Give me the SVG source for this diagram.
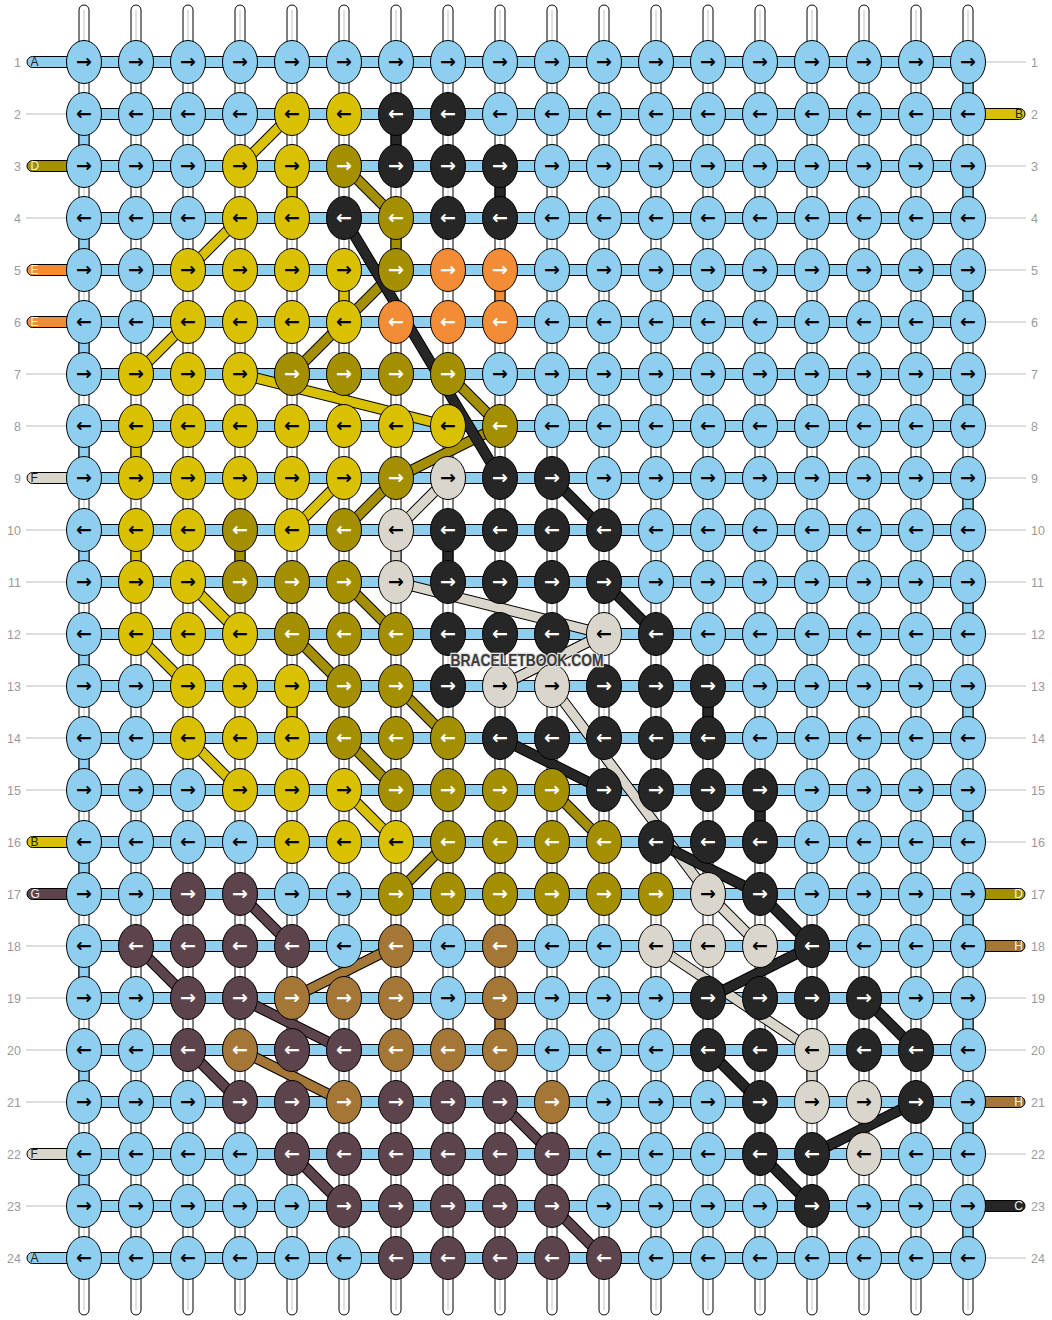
<svg xmlns="http://www.w3.org/2000/svg" xmlns:xlink="http://www.w3.org/1999/xlink" width="1052" height="1320" viewBox="0 0 1052 1320">
<style>
.L{fill:#8ecff0}.Y{fill:#dac100}.O{fill:#a38f00}.K{fill:#262626}.R{fill:#f28c35}.W{fill:#dad6cb}.N{fill:#a47737}.P{fill:#5d434b}
ellipse{stroke:#000;stroke-width:1}
.nodes text{font-family:"DejaVu Sans",sans-serif;font-weight:bold;font-size:19px;text-anchor:middle;fill:#000}
.nodes text.w{fill:#fff}
.str{fill:#fff;stroke:#000;stroke-width:1}
.strc{stroke:#c4c4c4;stroke-width:1}
.hb{stroke:#000;stroke-width:1}
.vc{stroke:#000;stroke-width:1}
.ol{fill:none;stroke:#000;stroke-width:11}
.fY,.fO,.fK,.fW,.fN,.fP{fill:none;stroke-width:9}
.fY{stroke:#dac100}.fO{stroke:#a38f00}.fK{stroke:#262626}.fW{stroke:#dad6cb}.fN{stroke:#a47737}.fP{stroke:#5d434b}
.num{font-family:"Liberation Sans",Arial,sans-serif;font-size:12.5px;fill:#9a9a9a}
.ne{text-anchor:end}
.gl{stroke:#bdbdbd;stroke-width:1}
.pill{stroke:#000;stroke-width:1}
.pl{font-family:"Liberation Sans",Arial,sans-serif;font-size:12px;fill:#222}
.pl.w{fill:#f2f2f2}
</style>
<defs>
<path id="pY" d="M292 114L240 166M240 218L188 270M188 322L136 374M240 374L448 426M292 530L344 478M188 582L240 634M136 634L188 686M188 738L240 790M344 790L396 842"/>
<path id="pO" d="M344 166L396 218M396 270L292 374M448 374L500 426M500 426L396 478M396 478L344 530M344 582L396 634M292 634L344 686M396 686L448 738M344 738L396 790M552 790L604 842M448 842L396 894"/>
<path id="pK" d="M344 218L500 478M552 478L604 530M604 582L656 634M500 738L604 790M656 842L760 894M760 894L812 946M812 946L708 998M864 998L916 1050M708 1050L760 1102M916 1102L812 1154M760 1154L812 1206"/>
<path id="pW" d="M448 478L396 530M396 582L604 634M604 634L500 686M552 686L708 894M708 894L760 946M656 946L812 1050"/>
<path id="pN" d="M396 946L292 998M240 1050L344 1102"/>
<path id="pP" d="M240 894L292 946M136 946L188 998M240 998L344 1050M188 1050L240 1102M292 1154L344 1206M500 1102L552 1154M552 1206L604 1258"/>
</defs>
<rect width="1052" height="1320" fill="#fff"/>
<g id="strings">
<g id="warp">
<rect class="str" x="79" y="5" width="10" height="1310" rx="5"/><rect class="str" x="131" y="5" width="10" height="1310" rx="5"/><rect class="str" x="183" y="5" width="10" height="1310" rx="5"/><rect class="str" x="235" y="5" width="10" height="1310" rx="5"/><rect class="str" x="287" y="5" width="10" height="1310" rx="5"/><rect class="str" x="339" y="5" width="10" height="1310" rx="5"/><rect class="str" x="391" y="5" width="10" height="1310" rx="5"/><rect class="str" x="443" y="5" width="10" height="1310" rx="5"/><rect class="str" x="495" y="5" width="10" height="1310" rx="5"/><rect class="str" x="547" y="5" width="10" height="1310" rx="5"/><rect class="str" x="599" y="5" width="10" height="1310" rx="5"/><rect class="str" x="651" y="5" width="10" height="1310" rx="5"/><rect class="str" x="703" y="5" width="10" height="1310" rx="5"/><rect class="str" x="755" y="5" width="10" height="1310" rx="5"/><rect class="str" x="807" y="5" width="10" height="1310" rx="5"/><rect class="str" x="859" y="5" width="10" height="1310" rx="5"/><rect class="str" x="911" y="5" width="10" height="1310" rx="5"/><rect class="str" x="963" y="5" width="10" height="1310" rx="5"/>
<path class="strc" d="M84 10V1310M136 10V1310M188 10V1310M240 10V1310M292 10V1310M344 10V1310M396 10V1310M448 10V1310M500 10V1310M552 10V1310M604 10V1310M656 10V1310M708 10V1310M760 10V1310M812 10V1310M864 10V1310M916 10V1310M968 10V1310"/>
</g>
<g id="rows">
<rect class="hb L" x="84" y="56.5" width="884" height="11"/><rect class="hb L" x="84" y="108.5" width="884" height="11"/><rect class="hb L" x="84" y="160.5" width="884" height="11"/><rect class="hb L" x="84" y="212.5" width="884" height="11"/><rect class="hb L" x="84" y="264.5" width="884" height="11"/><rect class="hb L" x="84" y="316.5" width="884" height="11"/><rect class="hb L" x="84" y="368.5" width="884" height="11"/><rect class="hb L" x="84" y="420.5" width="884" height="11"/><rect class="hb L" x="84" y="472.5" width="884" height="11"/><rect class="hb L" x="84" y="524.5" width="884" height="11"/><rect class="hb L" x="84" y="576.5" width="884" height="11"/><rect class="hb L" x="84" y="628.5" width="884" height="11"/><rect class="hb L" x="84" y="680.5" width="884" height="11"/><rect class="hb L" x="84" y="732.5" width="884" height="11"/><rect class="hb L" x="84" y="784.5" width="884" height="11"/><rect class="hb L" x="84" y="836.5" width="884" height="11"/><rect class="hb L" x="84" y="888.5" width="884" height="11"/><rect class="hb L" x="84" y="940.5" width="884" height="11"/><rect class="hb L" x="84" y="992.5" width="884" height="11"/><rect class="hb L" x="84" y="1044.5" width="884" height="11"/><rect class="hb L" x="84" y="1096.5" width="884" height="11"/><rect class="hb L" x="84" y="1148.5" width="884" height="11"/><rect class="hb L" x="84" y="1200.5" width="884" height="11"/><rect class="hb L" x="84" y="1252.5" width="884" height="11"/>
</g>
</g>
<g id="connectors">
<g id="vertical">
<rect class="vc L" x="79" y="114" width="10" height="52"/><rect class="vc L" x="79" y="218" width="10" height="52"/><rect class="vc L" x="79" y="322" width="10" height="52"/><rect class="vc L" x="79" y="426" width="10" height="52"/><rect class="vc L" x="79" y="530" width="10" height="52"/><rect class="vc L" x="79" y="634" width="10" height="52"/><rect class="vc L" x="79" y="738" width="10" height="52"/><rect class="vc L" x="79" y="842" width="10" height="52"/><rect class="vc L" x="79" y="946" width="10" height="52"/><rect class="vc L" x="79" y="1050" width="10" height="52"/><rect class="vc L" x="79" y="1154" width="10" height="52"/>
<rect class="vc L" x="963" y="62" width="10" height="52"/><rect class="vc L" x="963" y="166" width="10" height="52"/><rect class="vc L" x="963" y="270" width="10" height="52"/><rect class="vc L" x="963" y="374" width="10" height="52"/><rect class="vc L" x="963" y="478" width="10" height="52"/><rect class="vc L" x="963" y="582" width="10" height="52"/><rect class="vc L" x="963" y="686" width="10" height="52"/><rect class="vc L" x="963" y="790" width="10" height="52"/><rect class="vc L" x="963" y="894" width="10" height="52"/><rect class="vc L" x="963" y="998" width="10" height="52"/><rect class="vc L" x="963" y="1102" width="10" height="52"/><rect class="vc L" x="963" y="1206" width="10" height="52"/>
<rect class="vc Y" x="287" y="166" width="10" height="52"/><rect class="vc Y" x="339" y="270" width="10" height="52"/><rect class="vc Y" x="131" y="426" width="10" height="52"/><rect class="vc Y" x="131" y="530" width="10" height="52"/><rect class="vc Y" x="287" y="686" width="10" height="52"/>
<rect class="vc O" x="391" y="218" width="10" height="52"/><rect class="vc O" x="235" y="530" width="10" height="52"/>
<rect class="vc R" x="495" y="270" width="10" height="52"/>
<rect class="vc K" x="391" y="114" width="10" height="52"/><rect class="vc K" x="495" y="166" width="10" height="52"/><rect class="vc K" x="443" y="530" width="10" height="52"/><rect class="vc K" x="703" y="686" width="10" height="52"/><rect class="vc K" x="755" y="790" width="10" height="52"/>
<rect class="vc W" x="391" y="530" width="10" height="52"/><rect class="vc W" x="807" y="1050" width="10" height="52"/>
<rect class="vc N" x="495" y="998" width="10" height="52"/>
</g>
<g id="diagonal">
<use xlink:href="#pY" class="ol"/><use xlink:href="#pY" class="fY"/>
<use xlink:href="#pO" class="ol"/><use xlink:href="#pO" class="fO"/>
<use xlink:href="#pW" class="ol"/><use xlink:href="#pW" class="fW"/>
<use xlink:href="#pN" class="ol"/><use xlink:href="#pN" class="fN"/>
<use xlink:href="#pP" class="ol"/><use xlink:href="#pP" class="fP"/>
<use xlink:href="#pK" class="ol"/><use xlink:href="#pK" class="fK"/>
</g>
</g>
<g id="legend">
<path class="gl" d="M26 114H66M26 218H66M26 374H66M26 426H66M26 530H66M26 582H66M26 634H66M26 686H66M26 738H66M26 790H66M26 946H66M26 998H66M26 1050H66M26 1102H66M26 1206H66"/>
<path class="gl" d="M986 62H1026M986 166H1026M986 218H1026M986 270H1026M986 322H1026M986 374H1026M986 426H1026M986 478H1026M986 530H1026M986 582H1026M986 634H1026M986 686H1026M986 738H1026M986 790H1026M986 842H1026M986 998H1026M986 1050H1026M986 1154H1026M986 1258H1026"/>
<g id="pill-l1"><rect class="pill L" x="27" y="56.5" width="50" height="11" rx="5.5"/><text class="pl" x="30.5" y="66.3">A</text></g>
<g id="pill-l3"><rect class="pill O" x="27" y="160.5" width="50" height="11" rx="5.5"/><text class="pl w" x="30.5" y="170.3">D</text></g>
<g id="pill-l5"><rect class="pill R" x="27" y="264.5" width="50" height="11" rx="5.5"/><text class="pl w" x="30.5" y="274.3">E</text></g>
<g id="pill-l6"><rect class="pill R" x="27" y="316.5" width="50" height="11" rx="5.5"/><text class="pl w" x="30.5" y="326.3">E</text></g>
<g id="pill-l9"><rect class="pill W" x="27" y="472.5" width="50" height="11" rx="5.5"/><text class="pl" x="30.5" y="482.3">F</text></g>
<g id="pill-l16"><rect class="pill Y" x="27" y="836.5" width="50" height="11" rx="5.5"/><text class="pl" x="30.5" y="846.3">B</text></g>
<g id="pill-l17"><rect class="pill P" x="27" y="888.5" width="50" height="11" rx="5.5"/><text class="pl w" x="30.5" y="898.3">G</text></g>
<g id="pill-l22"><rect class="pill W" x="27" y="1148.5" width="50" height="11" rx="5.5"/><text class="pl" x="30.5" y="1158.3">F</text></g>
<g id="pill-l24"><rect class="pill L" x="27" y="1252.5" width="50" height="11" rx="5.5"/><text class="pl" x="30.5" y="1262.3">A</text></g>
<g id="pill-r2"><rect class="pill Y" x="975" y="108.5" width="50" height="11" rx="5.5"/><text class="pl ne" x="1023" y="118.3">B</text></g>
<g id="pill-r17"><rect class="pill O" x="975" y="888.5" width="50" height="11" rx="5.5"/><text class="pl w ne" x="1023" y="898.3">D</text></g>
<g id="pill-r18"><rect class="pill N" x="975" y="940.5" width="50" height="11" rx="5.5"/><text class="pl w ne" x="1023" y="950.3">H</text></g>
<g id="pill-r21"><rect class="pill N" x="975" y="1096.5" width="50" height="11" rx="5.5"/><text class="pl w ne" x="1023" y="1106.3">H</text></g>
<g id="pill-r23"><rect class="pill K" x="975" y="1200.5" width="50" height="11" rx="5.5"/><text class="pl w ne" x="1023" y="1210.3">C</text></g>
<g id="numbers-left" class="num ne">
<text x="21" y="66.5">1</text><text x="21" y="118.5">2</text><text x="21" y="170.5">3</text><text x="21" y="222.5">4</text><text x="21" y="274.5">5</text><text x="21" y="326.5">6</text><text x="21" y="378.5">7</text><text x="21" y="430.5">8</text><text x="21" y="482.5">9</text><text x="21" y="534.5">10</text><text x="21" y="586.5">11</text><text x="21" y="638.5">12</text><text x="21" y="690.5">13</text><text x="21" y="742.5">14</text><text x="21" y="794.5">15</text><text x="21" y="846.5">16</text><text x="21" y="898.5">17</text><text x="21" y="950.5">18</text><text x="21" y="1002.5">19</text><text x="21" y="1054.5">20</text><text x="21" y="1106.5">21</text><text x="21" y="1158.5">22</text><text x="21" y="1210.5">23</text><text x="21" y="1262.5">24</text>
</g>
<g id="numbers-right" class="num">
<text x="1031" y="66.5">1</text><text x="1031" y="118.5">2</text><text x="1031" y="170.5">3</text><text x="1031" y="222.5">4</text><text x="1031" y="274.5">5</text><text x="1031" y="326.5">6</text><text x="1031" y="378.5">7</text><text x="1031" y="430.5">8</text><text x="1031" y="482.5">9</text><text x="1031" y="534.5">10</text><text x="1031" y="586.5">11</text><text x="1031" y="638.5">12</text><text x="1031" y="690.5">13</text><text x="1031" y="742.5">14</text><text x="1031" y="794.5">15</text><text x="1031" y="846.5">16</text><text x="1031" y="898.5">17</text><text x="1031" y="950.5">18</text><text x="1031" y="1002.5">19</text><text x="1031" y="1054.5">20</text><text x="1031" y="1106.5">21</text><text x="1031" y="1158.5">22</text><text x="1031" y="1210.5">23</text><text x="1031" y="1262.5">24</text>
</g>
</g>
<g class="nodes">
<g id="n1-1"><ellipse class="L" cx="84" cy="62" rx="17.5" ry="21.5"/><text x="84" y="68">→</text></g>
<g id="n1-2"><ellipse class="L" cx="136" cy="62" rx="17.5" ry="21.5"/><text x="136" y="68">→</text></g>
<g id="n1-3"><ellipse class="L" cx="188" cy="62" rx="17.5" ry="21.5"/><text x="188" y="68">→</text></g>
<g id="n1-4"><ellipse class="L" cx="240" cy="62" rx="17.5" ry="21.5"/><text x="240" y="68">→</text></g>
<g id="n1-5"><ellipse class="L" cx="292" cy="62" rx="17.5" ry="21.5"/><text x="292" y="68">→</text></g>
<g id="n1-6"><ellipse class="L" cx="344" cy="62" rx="17.5" ry="21.5"/><text x="344" y="68">→</text></g>
<g id="n1-7"><ellipse class="L" cx="396" cy="62" rx="17.5" ry="21.5"/><text x="396" y="68">→</text></g>
<g id="n1-8"><ellipse class="L" cx="448" cy="62" rx="17.5" ry="21.5"/><text x="448" y="68">→</text></g>
<g id="n1-9"><ellipse class="L" cx="500" cy="62" rx="17.5" ry="21.5"/><text x="500" y="68">→</text></g>
<g id="n1-10"><ellipse class="L" cx="552" cy="62" rx="17.5" ry="21.5"/><text x="552" y="68">→</text></g>
<g id="n1-11"><ellipse class="L" cx="604" cy="62" rx="17.5" ry="21.5"/><text x="604" y="68">→</text></g>
<g id="n1-12"><ellipse class="L" cx="656" cy="62" rx="17.5" ry="21.5"/><text x="656" y="68">→</text></g>
<g id="n1-13"><ellipse class="L" cx="708" cy="62" rx="17.5" ry="21.5"/><text x="708" y="68">→</text></g>
<g id="n1-14"><ellipse class="L" cx="760" cy="62" rx="17.5" ry="21.5"/><text x="760" y="68">→</text></g>
<g id="n1-15"><ellipse class="L" cx="812" cy="62" rx="17.5" ry="21.5"/><text x="812" y="68">→</text></g>
<g id="n1-16"><ellipse class="L" cx="864" cy="62" rx="17.5" ry="21.5"/><text x="864" y="68">→</text></g>
<g id="n1-17"><ellipse class="L" cx="916" cy="62" rx="17.5" ry="21.5"/><text x="916" y="68">→</text></g>
<g id="n1-18"><ellipse class="L" cx="968" cy="62" rx="17.5" ry="21.5"/><text x="968" y="68">→</text></g>
<g id="n2-1"><ellipse class="L" cx="84" cy="114" rx="17.5" ry="21.5"/><text x="84" y="120">←</text></g>
<g id="n2-2"><ellipse class="L" cx="136" cy="114" rx="17.5" ry="21.5"/><text x="136" y="120">←</text></g>
<g id="n2-3"><ellipse class="L" cx="188" cy="114" rx="17.5" ry="21.5"/><text x="188" y="120">←</text></g>
<g id="n2-4"><ellipse class="L" cx="240" cy="114" rx="17.5" ry="21.5"/><text x="240" y="120">←</text></g>
<g id="n2-5"><ellipse class="Y" cx="292" cy="114" rx="17.5" ry="21.5"/><text x="292" y="120">←</text></g>
<g id="n2-6"><ellipse class="Y" cx="344" cy="114" rx="17.5" ry="21.5"/><text x="344" y="120">←</text></g>
<g id="n2-7"><ellipse class="K" cx="396" cy="114" rx="17.5" ry="21.5"/><text class="w" x="396" y="120">←</text></g>
<g id="n2-8"><ellipse class="K" cx="448" cy="114" rx="17.5" ry="21.5"/><text class="w" x="448" y="120">←</text></g>
<g id="n2-9"><ellipse class="L" cx="500" cy="114" rx="17.5" ry="21.5"/><text x="500" y="120">←</text></g>
<g id="n2-10"><ellipse class="L" cx="552" cy="114" rx="17.5" ry="21.5"/><text x="552" y="120">←</text></g>
<g id="n2-11"><ellipse class="L" cx="604" cy="114" rx="17.5" ry="21.5"/><text x="604" y="120">←</text></g>
<g id="n2-12"><ellipse class="L" cx="656" cy="114" rx="17.5" ry="21.5"/><text x="656" y="120">←</text></g>
<g id="n2-13"><ellipse class="L" cx="708" cy="114" rx="17.5" ry="21.5"/><text x="708" y="120">←</text></g>
<g id="n2-14"><ellipse class="L" cx="760" cy="114" rx="17.5" ry="21.5"/><text x="760" y="120">←</text></g>
<g id="n2-15"><ellipse class="L" cx="812" cy="114" rx="17.5" ry="21.5"/><text x="812" y="120">←</text></g>
<g id="n2-16"><ellipse class="L" cx="864" cy="114" rx="17.5" ry="21.5"/><text x="864" y="120">←</text></g>
<g id="n2-17"><ellipse class="L" cx="916" cy="114" rx="17.5" ry="21.5"/><text x="916" y="120">←</text></g>
<g id="n2-18"><ellipse class="L" cx="968" cy="114" rx="17.5" ry="21.5"/><text x="968" y="120">←</text></g>
<g id="n3-1"><ellipse class="L" cx="84" cy="166" rx="17.5" ry="21.5"/><text x="84" y="172">→</text></g>
<g id="n3-2"><ellipse class="L" cx="136" cy="166" rx="17.5" ry="21.5"/><text x="136" y="172">→</text></g>
<g id="n3-3"><ellipse class="L" cx="188" cy="166" rx="17.5" ry="21.5"/><text x="188" y="172">→</text></g>
<g id="n3-4"><ellipse class="Y" cx="240" cy="166" rx="17.5" ry="21.5"/><text x="240" y="172">→</text></g>
<g id="n3-5"><ellipse class="Y" cx="292" cy="166" rx="17.5" ry="21.5"/><text x="292" y="172">→</text></g>
<g id="n3-6"><ellipse class="O" cx="344" cy="166" rx="17.5" ry="21.5"/><text class="w" x="344" y="172">→</text></g>
<g id="n3-7"><ellipse class="K" cx="396" cy="166" rx="17.5" ry="21.5"/><text class="w" x="396" y="172">→</text></g>
<g id="n3-8"><ellipse class="K" cx="448" cy="166" rx="17.5" ry="21.5"/><text class="w" x="448" y="172">→</text></g>
<g id="n3-9"><ellipse class="K" cx="500" cy="166" rx="17.5" ry="21.5"/><text class="w" x="500" y="172">→</text></g>
<g id="n3-10"><ellipse class="L" cx="552" cy="166" rx="17.5" ry="21.5"/><text x="552" y="172">→</text></g>
<g id="n3-11"><ellipse class="L" cx="604" cy="166" rx="17.5" ry="21.5"/><text x="604" y="172">→</text></g>
<g id="n3-12"><ellipse class="L" cx="656" cy="166" rx="17.5" ry="21.5"/><text x="656" y="172">→</text></g>
<g id="n3-13"><ellipse class="L" cx="708" cy="166" rx="17.5" ry="21.5"/><text x="708" y="172">→</text></g>
<g id="n3-14"><ellipse class="L" cx="760" cy="166" rx="17.5" ry="21.5"/><text x="760" y="172">→</text></g>
<g id="n3-15"><ellipse class="L" cx="812" cy="166" rx="17.5" ry="21.5"/><text x="812" y="172">→</text></g>
<g id="n3-16"><ellipse class="L" cx="864" cy="166" rx="17.5" ry="21.5"/><text x="864" y="172">→</text></g>
<g id="n3-17"><ellipse class="L" cx="916" cy="166" rx="17.5" ry="21.5"/><text x="916" y="172">→</text></g>
<g id="n3-18"><ellipse class="L" cx="968" cy="166" rx="17.5" ry="21.5"/><text x="968" y="172">→</text></g>
<g id="n4-1"><ellipse class="L" cx="84" cy="218" rx="17.5" ry="21.5"/><text x="84" y="224">←</text></g>
<g id="n4-2"><ellipse class="L" cx="136" cy="218" rx="17.5" ry="21.5"/><text x="136" y="224">←</text></g>
<g id="n4-3"><ellipse class="L" cx="188" cy="218" rx="17.5" ry="21.5"/><text x="188" y="224">←</text></g>
<g id="n4-4"><ellipse class="Y" cx="240" cy="218" rx="17.5" ry="21.5"/><text x="240" y="224">←</text></g>
<g id="n4-5"><ellipse class="Y" cx="292" cy="218" rx="17.5" ry="21.5"/><text x="292" y="224">←</text></g>
<g id="n4-6"><ellipse class="K" cx="344" cy="218" rx="17.5" ry="21.5"/><text class="w" x="344" y="224">←</text></g>
<g id="n4-7"><ellipse class="O" cx="396" cy="218" rx="17.5" ry="21.5"/><text class="w" x="396" y="224">←</text></g>
<g id="n4-8"><ellipse class="K" cx="448" cy="218" rx="17.5" ry="21.5"/><text class="w" x="448" y="224">←</text></g>
<g id="n4-9"><ellipse class="K" cx="500" cy="218" rx="17.5" ry="21.5"/><text class="w" x="500" y="224">←</text></g>
<g id="n4-10"><ellipse class="L" cx="552" cy="218" rx="17.5" ry="21.5"/><text x="552" y="224">←</text></g>
<g id="n4-11"><ellipse class="L" cx="604" cy="218" rx="17.5" ry="21.5"/><text x="604" y="224">←</text></g>
<g id="n4-12"><ellipse class="L" cx="656" cy="218" rx="17.5" ry="21.5"/><text x="656" y="224">←</text></g>
<g id="n4-13"><ellipse class="L" cx="708" cy="218" rx="17.5" ry="21.5"/><text x="708" y="224">←</text></g>
<g id="n4-14"><ellipse class="L" cx="760" cy="218" rx="17.5" ry="21.5"/><text x="760" y="224">←</text></g>
<g id="n4-15"><ellipse class="L" cx="812" cy="218" rx="17.5" ry="21.5"/><text x="812" y="224">←</text></g>
<g id="n4-16"><ellipse class="L" cx="864" cy="218" rx="17.5" ry="21.5"/><text x="864" y="224">←</text></g>
<g id="n4-17"><ellipse class="L" cx="916" cy="218" rx="17.5" ry="21.5"/><text x="916" y="224">←</text></g>
<g id="n4-18"><ellipse class="L" cx="968" cy="218" rx="17.5" ry="21.5"/><text x="968" y="224">←</text></g>
<g id="n5-1"><ellipse class="L" cx="84" cy="270" rx="17.5" ry="21.5"/><text x="84" y="276">→</text></g>
<g id="n5-2"><ellipse class="L" cx="136" cy="270" rx="17.5" ry="21.5"/><text x="136" y="276">→</text></g>
<g id="n5-3"><ellipse class="Y" cx="188" cy="270" rx="17.5" ry="21.5"/><text x="188" y="276">→</text></g>
<g id="n5-4"><ellipse class="Y" cx="240" cy="270" rx="17.5" ry="21.5"/><text x="240" y="276">→</text></g>
<g id="n5-5"><ellipse class="Y" cx="292" cy="270" rx="17.5" ry="21.5"/><text x="292" y="276">→</text></g>
<g id="n5-6"><ellipse class="Y" cx="344" cy="270" rx="17.5" ry="21.5"/><text x="344" y="276">→</text></g>
<g id="n5-7"><ellipse class="O" cx="396" cy="270" rx="17.5" ry="21.5"/><text class="w" x="396" y="276">→</text></g>
<g id="n5-8"><ellipse class="R" cx="448" cy="270" rx="17.5" ry="21.5"/><text class="w" x="448" y="276">→</text></g>
<g id="n5-9"><ellipse class="R" cx="500" cy="270" rx="17.5" ry="21.5"/><text class="w" x="500" y="276">→</text></g>
<g id="n5-10"><ellipse class="L" cx="552" cy="270" rx="17.5" ry="21.5"/><text x="552" y="276">→</text></g>
<g id="n5-11"><ellipse class="L" cx="604" cy="270" rx="17.5" ry="21.5"/><text x="604" y="276">→</text></g>
<g id="n5-12"><ellipse class="L" cx="656" cy="270" rx="17.5" ry="21.5"/><text x="656" y="276">→</text></g>
<g id="n5-13"><ellipse class="L" cx="708" cy="270" rx="17.5" ry="21.5"/><text x="708" y="276">→</text></g>
<g id="n5-14"><ellipse class="L" cx="760" cy="270" rx="17.5" ry="21.5"/><text x="760" y="276">→</text></g>
<g id="n5-15"><ellipse class="L" cx="812" cy="270" rx="17.5" ry="21.5"/><text x="812" y="276">→</text></g>
<g id="n5-16"><ellipse class="L" cx="864" cy="270" rx="17.5" ry="21.5"/><text x="864" y="276">→</text></g>
<g id="n5-17"><ellipse class="L" cx="916" cy="270" rx="17.5" ry="21.5"/><text x="916" y="276">→</text></g>
<g id="n5-18"><ellipse class="L" cx="968" cy="270" rx="17.5" ry="21.5"/><text x="968" y="276">→</text></g>
<g id="n6-1"><ellipse class="L" cx="84" cy="322" rx="17.5" ry="21.5"/><text x="84" y="328">←</text></g>
<g id="n6-2"><ellipse class="L" cx="136" cy="322" rx="17.5" ry="21.5"/><text x="136" y="328">←</text></g>
<g id="n6-3"><ellipse class="Y" cx="188" cy="322" rx="17.5" ry="21.5"/><text x="188" y="328">←</text></g>
<g id="n6-4"><ellipse class="Y" cx="240" cy="322" rx="17.5" ry="21.5"/><text x="240" y="328">←</text></g>
<g id="n6-5"><ellipse class="Y" cx="292" cy="322" rx="17.5" ry="21.5"/><text x="292" y="328">←</text></g>
<g id="n6-6"><ellipse class="Y" cx="344" cy="322" rx="17.5" ry="21.5"/><text x="344" y="328">←</text></g>
<g id="n6-7"><ellipse class="R" cx="396" cy="322" rx="17.5" ry="21.5"/><text class="w" x="396" y="328">←</text></g>
<g id="n6-8"><ellipse class="R" cx="448" cy="322" rx="17.5" ry="21.5"/><text class="w" x="448" y="328">←</text></g>
<g id="n6-9"><ellipse class="R" cx="500" cy="322" rx="17.5" ry="21.5"/><text class="w" x="500" y="328">←</text></g>
<g id="n6-10"><ellipse class="L" cx="552" cy="322" rx="17.5" ry="21.5"/><text x="552" y="328">←</text></g>
<g id="n6-11"><ellipse class="L" cx="604" cy="322" rx="17.5" ry="21.5"/><text x="604" y="328">←</text></g>
<g id="n6-12"><ellipse class="L" cx="656" cy="322" rx="17.5" ry="21.5"/><text x="656" y="328">←</text></g>
<g id="n6-13"><ellipse class="L" cx="708" cy="322" rx="17.5" ry="21.5"/><text x="708" y="328">←</text></g>
<g id="n6-14"><ellipse class="L" cx="760" cy="322" rx="17.5" ry="21.5"/><text x="760" y="328">←</text></g>
<g id="n6-15"><ellipse class="L" cx="812" cy="322" rx="17.5" ry="21.5"/><text x="812" y="328">←</text></g>
<g id="n6-16"><ellipse class="L" cx="864" cy="322" rx="17.5" ry="21.5"/><text x="864" y="328">←</text></g>
<g id="n6-17"><ellipse class="L" cx="916" cy="322" rx="17.5" ry="21.5"/><text x="916" y="328">←</text></g>
<g id="n6-18"><ellipse class="L" cx="968" cy="322" rx="17.5" ry="21.5"/><text x="968" y="328">←</text></g>
<g id="n7-1"><ellipse class="L" cx="84" cy="374" rx="17.5" ry="21.5"/><text x="84" y="380">→</text></g>
<g id="n7-2"><ellipse class="Y" cx="136" cy="374" rx="17.5" ry="21.5"/><text x="136" y="380">→</text></g>
<g id="n7-3"><ellipse class="Y" cx="188" cy="374" rx="17.5" ry="21.5"/><text x="188" y="380">→</text></g>
<g id="n7-4"><ellipse class="Y" cx="240" cy="374" rx="17.5" ry="21.5"/><text x="240" y="380">→</text></g>
<g id="n7-5"><ellipse class="O" cx="292" cy="374" rx="17.5" ry="21.5"/><text class="w" x="292" y="380">→</text></g>
<g id="n7-6"><ellipse class="O" cx="344" cy="374" rx="17.5" ry="21.5"/><text class="w" x="344" y="380">→</text></g>
<g id="n7-7"><ellipse class="O" cx="396" cy="374" rx="17.5" ry="21.5"/><text class="w" x="396" y="380">→</text></g>
<g id="n7-8"><ellipse class="O" cx="448" cy="374" rx="17.5" ry="21.5"/><text class="w" x="448" y="380">→</text></g>
<g id="n7-9"><ellipse class="L" cx="500" cy="374" rx="17.5" ry="21.5"/><text x="500" y="380">→</text></g>
<g id="n7-10"><ellipse class="L" cx="552" cy="374" rx="17.5" ry="21.5"/><text x="552" y="380">→</text></g>
<g id="n7-11"><ellipse class="L" cx="604" cy="374" rx="17.5" ry="21.5"/><text x="604" y="380">→</text></g>
<g id="n7-12"><ellipse class="L" cx="656" cy="374" rx="17.5" ry="21.5"/><text x="656" y="380">→</text></g>
<g id="n7-13"><ellipse class="L" cx="708" cy="374" rx="17.5" ry="21.5"/><text x="708" y="380">→</text></g>
<g id="n7-14"><ellipse class="L" cx="760" cy="374" rx="17.5" ry="21.5"/><text x="760" y="380">→</text></g>
<g id="n7-15"><ellipse class="L" cx="812" cy="374" rx="17.5" ry="21.5"/><text x="812" y="380">→</text></g>
<g id="n7-16"><ellipse class="L" cx="864" cy="374" rx="17.5" ry="21.5"/><text x="864" y="380">→</text></g>
<g id="n7-17"><ellipse class="L" cx="916" cy="374" rx="17.5" ry="21.5"/><text x="916" y="380">→</text></g>
<g id="n7-18"><ellipse class="L" cx="968" cy="374" rx="17.5" ry="21.5"/><text x="968" y="380">→</text></g>
<g id="n8-1"><ellipse class="L" cx="84" cy="426" rx="17.5" ry="21.5"/><text x="84" y="432">←</text></g>
<g id="n8-2"><ellipse class="Y" cx="136" cy="426" rx="17.5" ry="21.5"/><text x="136" y="432">←</text></g>
<g id="n8-3"><ellipse class="Y" cx="188" cy="426" rx="17.5" ry="21.5"/><text x="188" y="432">←</text></g>
<g id="n8-4"><ellipse class="Y" cx="240" cy="426" rx="17.5" ry="21.5"/><text x="240" y="432">←</text></g>
<g id="n8-5"><ellipse class="Y" cx="292" cy="426" rx="17.5" ry="21.5"/><text x="292" y="432">←</text></g>
<g id="n8-6"><ellipse class="Y" cx="344" cy="426" rx="17.5" ry="21.5"/><text x="344" y="432">←</text></g>
<g id="n8-7"><ellipse class="Y" cx="396" cy="426" rx="17.5" ry="21.5"/><text x="396" y="432">←</text></g>
<g id="n8-8"><ellipse class="Y" cx="448" cy="426" rx="17.5" ry="21.5"/><text x="448" y="432">←</text></g>
<g id="n8-9"><ellipse class="O" cx="500" cy="426" rx="17.5" ry="21.5"/><text class="w" x="500" y="432">←</text></g>
<g id="n8-10"><ellipse class="L" cx="552" cy="426" rx="17.5" ry="21.5"/><text x="552" y="432">←</text></g>
<g id="n8-11"><ellipse class="L" cx="604" cy="426" rx="17.5" ry="21.5"/><text x="604" y="432">←</text></g>
<g id="n8-12"><ellipse class="L" cx="656" cy="426" rx="17.5" ry="21.5"/><text x="656" y="432">←</text></g>
<g id="n8-13"><ellipse class="L" cx="708" cy="426" rx="17.5" ry="21.5"/><text x="708" y="432">←</text></g>
<g id="n8-14"><ellipse class="L" cx="760" cy="426" rx="17.5" ry="21.5"/><text x="760" y="432">←</text></g>
<g id="n8-15"><ellipse class="L" cx="812" cy="426" rx="17.5" ry="21.5"/><text x="812" y="432">←</text></g>
<g id="n8-16"><ellipse class="L" cx="864" cy="426" rx="17.5" ry="21.5"/><text x="864" y="432">←</text></g>
<g id="n8-17"><ellipse class="L" cx="916" cy="426" rx="17.5" ry="21.5"/><text x="916" y="432">←</text></g>
<g id="n8-18"><ellipse class="L" cx="968" cy="426" rx="17.5" ry="21.5"/><text x="968" y="432">←</text></g>
<g id="n9-1"><ellipse class="L" cx="84" cy="478" rx="17.5" ry="21.5"/><text x="84" y="484">→</text></g>
<g id="n9-2"><ellipse class="Y" cx="136" cy="478" rx="17.5" ry="21.5"/><text x="136" y="484">→</text></g>
<g id="n9-3"><ellipse class="Y" cx="188" cy="478" rx="17.5" ry="21.5"/><text x="188" y="484">→</text></g>
<g id="n9-4"><ellipse class="Y" cx="240" cy="478" rx="17.5" ry="21.5"/><text x="240" y="484">→</text></g>
<g id="n9-5"><ellipse class="Y" cx="292" cy="478" rx="17.5" ry="21.5"/><text x="292" y="484">→</text></g>
<g id="n9-6"><ellipse class="Y" cx="344" cy="478" rx="17.5" ry="21.5"/><text x="344" y="484">→</text></g>
<g id="n9-7"><ellipse class="O" cx="396" cy="478" rx="17.5" ry="21.5"/><text class="w" x="396" y="484">→</text></g>
<g id="n9-8"><ellipse class="W" cx="448" cy="478" rx="17.5" ry="21.5"/><text x="448" y="484">→</text></g>
<g id="n9-9"><ellipse class="K" cx="500" cy="478" rx="17.5" ry="21.5"/><text class="w" x="500" y="484">→</text></g>
<g id="n9-10"><ellipse class="K" cx="552" cy="478" rx="17.5" ry="21.5"/><text class="w" x="552" y="484">→</text></g>
<g id="n9-11"><ellipse class="L" cx="604" cy="478" rx="17.5" ry="21.5"/><text x="604" y="484">→</text></g>
<g id="n9-12"><ellipse class="L" cx="656" cy="478" rx="17.5" ry="21.5"/><text x="656" y="484">→</text></g>
<g id="n9-13"><ellipse class="L" cx="708" cy="478" rx="17.5" ry="21.5"/><text x="708" y="484">→</text></g>
<g id="n9-14"><ellipse class="L" cx="760" cy="478" rx="17.5" ry="21.5"/><text x="760" y="484">→</text></g>
<g id="n9-15"><ellipse class="L" cx="812" cy="478" rx="17.5" ry="21.5"/><text x="812" y="484">→</text></g>
<g id="n9-16"><ellipse class="L" cx="864" cy="478" rx="17.5" ry="21.5"/><text x="864" y="484">→</text></g>
<g id="n9-17"><ellipse class="L" cx="916" cy="478" rx="17.5" ry="21.5"/><text x="916" y="484">→</text></g>
<g id="n9-18"><ellipse class="L" cx="968" cy="478" rx="17.5" ry="21.5"/><text x="968" y="484">→</text></g>
<g id="n10-1"><ellipse class="L" cx="84" cy="530" rx="17.5" ry="21.5"/><text x="84" y="536">←</text></g>
<g id="n10-2"><ellipse class="Y" cx="136" cy="530" rx="17.5" ry="21.5"/><text x="136" y="536">←</text></g>
<g id="n10-3"><ellipse class="Y" cx="188" cy="530" rx="17.5" ry="21.5"/><text x="188" y="536">←</text></g>
<g id="n10-4"><ellipse class="O" cx="240" cy="530" rx="17.5" ry="21.5"/><text class="w" x="240" y="536">←</text></g>
<g id="n10-5"><ellipse class="Y" cx="292" cy="530" rx="17.5" ry="21.5"/><text x="292" y="536">←</text></g>
<g id="n10-6"><ellipse class="O" cx="344" cy="530" rx="17.5" ry="21.5"/><text class="w" x="344" y="536">←</text></g>
<g id="n10-7"><ellipse class="W" cx="396" cy="530" rx="17.5" ry="21.5"/><text x="396" y="536">←</text></g>
<g id="n10-8"><ellipse class="K" cx="448" cy="530" rx="17.5" ry="21.5"/><text class="w" x="448" y="536">←</text></g>
<g id="n10-9"><ellipse class="K" cx="500" cy="530" rx="17.5" ry="21.5"/><text class="w" x="500" y="536">←</text></g>
<g id="n10-10"><ellipse class="K" cx="552" cy="530" rx="17.5" ry="21.5"/><text class="w" x="552" y="536">←</text></g>
<g id="n10-11"><ellipse class="K" cx="604" cy="530" rx="17.5" ry="21.5"/><text class="w" x="604" y="536">←</text></g>
<g id="n10-12"><ellipse class="L" cx="656" cy="530" rx="17.5" ry="21.5"/><text x="656" y="536">←</text></g>
<g id="n10-13"><ellipse class="L" cx="708" cy="530" rx="17.5" ry="21.5"/><text x="708" y="536">←</text></g>
<g id="n10-14"><ellipse class="L" cx="760" cy="530" rx="17.5" ry="21.5"/><text x="760" y="536">←</text></g>
<g id="n10-15"><ellipse class="L" cx="812" cy="530" rx="17.5" ry="21.5"/><text x="812" y="536">←</text></g>
<g id="n10-16"><ellipse class="L" cx="864" cy="530" rx="17.5" ry="21.5"/><text x="864" y="536">←</text></g>
<g id="n10-17"><ellipse class="L" cx="916" cy="530" rx="17.5" ry="21.5"/><text x="916" y="536">←</text></g>
<g id="n10-18"><ellipse class="L" cx="968" cy="530" rx="17.5" ry="21.5"/><text x="968" y="536">←</text></g>
<g id="n11-1"><ellipse class="L" cx="84" cy="582" rx="17.5" ry="21.5"/><text x="84" y="588">→</text></g>
<g id="n11-2"><ellipse class="Y" cx="136" cy="582" rx="17.5" ry="21.5"/><text x="136" y="588">→</text></g>
<g id="n11-3"><ellipse class="Y" cx="188" cy="582" rx="17.5" ry="21.5"/><text x="188" y="588">→</text></g>
<g id="n11-4"><ellipse class="O" cx="240" cy="582" rx="17.5" ry="21.5"/><text class="w" x="240" y="588">→</text></g>
<g id="n11-5"><ellipse class="O" cx="292" cy="582" rx="17.5" ry="21.5"/><text class="w" x="292" y="588">→</text></g>
<g id="n11-6"><ellipse class="O" cx="344" cy="582" rx="17.5" ry="21.5"/><text class="w" x="344" y="588">→</text></g>
<g id="n11-7"><ellipse class="W" cx="396" cy="582" rx="17.5" ry="21.5"/><text x="396" y="588">→</text></g>
<g id="n11-8"><ellipse class="K" cx="448" cy="582" rx="17.5" ry="21.5"/><text class="w" x="448" y="588">→</text></g>
<g id="n11-9"><ellipse class="K" cx="500" cy="582" rx="17.5" ry="21.5"/><text class="w" x="500" y="588">→</text></g>
<g id="n11-10"><ellipse class="K" cx="552" cy="582" rx="17.5" ry="21.5"/><text class="w" x="552" y="588">→</text></g>
<g id="n11-11"><ellipse class="K" cx="604" cy="582" rx="17.5" ry="21.5"/><text class="w" x="604" y="588">→</text></g>
<g id="n11-12"><ellipse class="L" cx="656" cy="582" rx="17.5" ry="21.5"/><text x="656" y="588">→</text></g>
<g id="n11-13"><ellipse class="L" cx="708" cy="582" rx="17.5" ry="21.5"/><text x="708" y="588">→</text></g>
<g id="n11-14"><ellipse class="L" cx="760" cy="582" rx="17.5" ry="21.5"/><text x="760" y="588">→</text></g>
<g id="n11-15"><ellipse class="L" cx="812" cy="582" rx="17.5" ry="21.5"/><text x="812" y="588">→</text></g>
<g id="n11-16"><ellipse class="L" cx="864" cy="582" rx="17.5" ry="21.5"/><text x="864" y="588">→</text></g>
<g id="n11-17"><ellipse class="L" cx="916" cy="582" rx="17.5" ry="21.5"/><text x="916" y="588">→</text></g>
<g id="n11-18"><ellipse class="L" cx="968" cy="582" rx="17.5" ry="21.5"/><text x="968" y="588">→</text></g>
<g id="n12-1"><ellipse class="L" cx="84" cy="634" rx="17.5" ry="21.5"/><text x="84" y="640">←</text></g>
<g id="n12-2"><ellipse class="Y" cx="136" cy="634" rx="17.5" ry="21.5"/><text x="136" y="640">←</text></g>
<g id="n12-3"><ellipse class="Y" cx="188" cy="634" rx="17.5" ry="21.5"/><text x="188" y="640">←</text></g>
<g id="n12-4"><ellipse class="Y" cx="240" cy="634" rx="17.5" ry="21.5"/><text x="240" y="640">←</text></g>
<g id="n12-5"><ellipse class="O" cx="292" cy="634" rx="17.5" ry="21.5"/><text class="w" x="292" y="640">←</text></g>
<g id="n12-6"><ellipse class="O" cx="344" cy="634" rx="17.5" ry="21.5"/><text class="w" x="344" y="640">←</text></g>
<g id="n12-7"><ellipse class="O" cx="396" cy="634" rx="17.5" ry="21.5"/><text class="w" x="396" y="640">←</text></g>
<g id="n12-8"><ellipse class="K" cx="448" cy="634" rx="17.5" ry="21.5"/><text class="w" x="448" y="640">←</text></g>
<g id="n12-9"><ellipse class="K" cx="500" cy="634" rx="17.5" ry="21.5"/><text class="w" x="500" y="640">←</text></g>
<g id="n12-10"><ellipse class="K" cx="552" cy="634" rx="17.5" ry="21.5"/><text class="w" x="552" y="640">←</text></g>
<g id="n12-11"><ellipse class="W" cx="604" cy="634" rx="17.5" ry="21.5"/><text x="604" y="640">←</text></g>
<g id="n12-12"><ellipse class="K" cx="656" cy="634" rx="17.5" ry="21.5"/><text class="w" x="656" y="640">←</text></g>
<g id="n12-13"><ellipse class="L" cx="708" cy="634" rx="17.5" ry="21.5"/><text x="708" y="640">←</text></g>
<g id="n12-14"><ellipse class="L" cx="760" cy="634" rx="17.5" ry="21.5"/><text x="760" y="640">←</text></g>
<g id="n12-15"><ellipse class="L" cx="812" cy="634" rx="17.5" ry="21.5"/><text x="812" y="640">←</text></g>
<g id="n12-16"><ellipse class="L" cx="864" cy="634" rx="17.5" ry="21.5"/><text x="864" y="640">←</text></g>
<g id="n12-17"><ellipse class="L" cx="916" cy="634" rx="17.5" ry="21.5"/><text x="916" y="640">←</text></g>
<g id="n12-18"><ellipse class="L" cx="968" cy="634" rx="17.5" ry="21.5"/><text x="968" y="640">←</text></g>
<g id="n13-1"><ellipse class="L" cx="84" cy="686" rx="17.5" ry="21.5"/><text x="84" y="692">→</text></g>
<g id="n13-2"><ellipse class="L" cx="136" cy="686" rx="17.5" ry="21.5"/><text x="136" y="692">→</text></g>
<g id="n13-3"><ellipse class="Y" cx="188" cy="686" rx="17.5" ry="21.5"/><text x="188" y="692">→</text></g>
<g id="n13-4"><ellipse class="Y" cx="240" cy="686" rx="17.5" ry="21.5"/><text x="240" y="692">→</text></g>
<g id="n13-5"><ellipse class="Y" cx="292" cy="686" rx="17.5" ry="21.5"/><text x="292" y="692">→</text></g>
<g id="n13-6"><ellipse class="O" cx="344" cy="686" rx="17.5" ry="21.5"/><text class="w" x="344" y="692">→</text></g>
<g id="n13-7"><ellipse class="O" cx="396" cy="686" rx="17.5" ry="21.5"/><text class="w" x="396" y="692">→</text></g>
<g id="n13-8"><ellipse class="K" cx="448" cy="686" rx="17.5" ry="21.5"/><text class="w" x="448" y="692">→</text></g>
<g id="n13-9"><ellipse class="W" cx="500" cy="686" rx="17.5" ry="21.5"/><text x="500" y="692">→</text></g>
<g id="n13-10"><ellipse class="W" cx="552" cy="686" rx="17.5" ry="21.5"/><text x="552" y="692">→</text></g>
<g id="n13-11"><ellipse class="K" cx="604" cy="686" rx="17.5" ry="21.5"/><text class="w" x="604" y="692">→</text></g>
<g id="n13-12"><ellipse class="K" cx="656" cy="686" rx="17.5" ry="21.5"/><text class="w" x="656" y="692">→</text></g>
<g id="n13-13"><ellipse class="K" cx="708" cy="686" rx="17.5" ry="21.5"/><text class="w" x="708" y="692">→</text></g>
<g id="n13-14"><ellipse class="L" cx="760" cy="686" rx="17.5" ry="21.5"/><text x="760" y="692">→</text></g>
<g id="n13-15"><ellipse class="L" cx="812" cy="686" rx="17.5" ry="21.5"/><text x="812" y="692">→</text></g>
<g id="n13-16"><ellipse class="L" cx="864" cy="686" rx="17.5" ry="21.5"/><text x="864" y="692">→</text></g>
<g id="n13-17"><ellipse class="L" cx="916" cy="686" rx="17.5" ry="21.5"/><text x="916" y="692">→</text></g>
<g id="n13-18"><ellipse class="L" cx="968" cy="686" rx="17.5" ry="21.5"/><text x="968" y="692">→</text></g>
<g id="n14-1"><ellipse class="L" cx="84" cy="738" rx="17.5" ry="21.5"/><text x="84" y="744">←</text></g>
<g id="n14-2"><ellipse class="L" cx="136" cy="738" rx="17.5" ry="21.5"/><text x="136" y="744">←</text></g>
<g id="n14-3"><ellipse class="Y" cx="188" cy="738" rx="17.5" ry="21.5"/><text x="188" y="744">←</text></g>
<g id="n14-4"><ellipse class="Y" cx="240" cy="738" rx="17.5" ry="21.5"/><text x="240" y="744">←</text></g>
<g id="n14-5"><ellipse class="Y" cx="292" cy="738" rx="17.5" ry="21.5"/><text x="292" y="744">←</text></g>
<g id="n14-6"><ellipse class="O" cx="344" cy="738" rx="17.5" ry="21.5"/><text class="w" x="344" y="744">←</text></g>
<g id="n14-7"><ellipse class="O" cx="396" cy="738" rx="17.5" ry="21.5"/><text class="w" x="396" y="744">←</text></g>
<g id="n14-8"><ellipse class="O" cx="448" cy="738" rx="17.5" ry="21.5"/><text class="w" x="448" y="744">←</text></g>
<g id="n14-9"><ellipse class="K" cx="500" cy="738" rx="17.5" ry="21.5"/><text class="w" x="500" y="744">←</text></g>
<g id="n14-10"><ellipse class="K" cx="552" cy="738" rx="17.5" ry="21.5"/><text class="w" x="552" y="744">←</text></g>
<g id="n14-11"><ellipse class="K" cx="604" cy="738" rx="17.5" ry="21.5"/><text class="w" x="604" y="744">←</text></g>
<g id="n14-12"><ellipse class="K" cx="656" cy="738" rx="17.5" ry="21.5"/><text class="w" x="656" y="744">←</text></g>
<g id="n14-13"><ellipse class="K" cx="708" cy="738" rx="17.5" ry="21.5"/><text class="w" x="708" y="744">←</text></g>
<g id="n14-14"><ellipse class="L" cx="760" cy="738" rx="17.5" ry="21.5"/><text x="760" y="744">←</text></g>
<g id="n14-15"><ellipse class="L" cx="812" cy="738" rx="17.5" ry="21.5"/><text x="812" y="744">←</text></g>
<g id="n14-16"><ellipse class="L" cx="864" cy="738" rx="17.5" ry="21.5"/><text x="864" y="744">←</text></g>
<g id="n14-17"><ellipse class="L" cx="916" cy="738" rx="17.5" ry="21.5"/><text x="916" y="744">←</text></g>
<g id="n14-18"><ellipse class="L" cx="968" cy="738" rx="17.5" ry="21.5"/><text x="968" y="744">←</text></g>
<g id="n15-1"><ellipse class="L" cx="84" cy="790" rx="17.5" ry="21.5"/><text x="84" y="796">→</text></g>
<g id="n15-2"><ellipse class="L" cx="136" cy="790" rx="17.5" ry="21.5"/><text x="136" y="796">→</text></g>
<g id="n15-3"><ellipse class="L" cx="188" cy="790" rx="17.5" ry="21.5"/><text x="188" y="796">→</text></g>
<g id="n15-4"><ellipse class="Y" cx="240" cy="790" rx="17.5" ry="21.5"/><text x="240" y="796">→</text></g>
<g id="n15-5"><ellipse class="Y" cx="292" cy="790" rx="17.5" ry="21.5"/><text x="292" y="796">→</text></g>
<g id="n15-6"><ellipse class="Y" cx="344" cy="790" rx="17.5" ry="21.5"/><text x="344" y="796">→</text></g>
<g id="n15-7"><ellipse class="O" cx="396" cy="790" rx="17.5" ry="21.5"/><text class="w" x="396" y="796">→</text></g>
<g id="n15-8"><ellipse class="O" cx="448" cy="790" rx="17.5" ry="21.5"/><text class="w" x="448" y="796">→</text></g>
<g id="n15-9"><ellipse class="O" cx="500" cy="790" rx="17.5" ry="21.5"/><text class="w" x="500" y="796">→</text></g>
<g id="n15-10"><ellipse class="O" cx="552" cy="790" rx="17.5" ry="21.5"/><text class="w" x="552" y="796">→</text></g>
<g id="n15-11"><ellipse class="K" cx="604" cy="790" rx="17.5" ry="21.5"/><text class="w" x="604" y="796">→</text></g>
<g id="n15-12"><ellipse class="K" cx="656" cy="790" rx="17.5" ry="21.5"/><text class="w" x="656" y="796">→</text></g>
<g id="n15-13"><ellipse class="K" cx="708" cy="790" rx="17.5" ry="21.5"/><text class="w" x="708" y="796">→</text></g>
<g id="n15-14"><ellipse class="K" cx="760" cy="790" rx="17.5" ry="21.5"/><text class="w" x="760" y="796">→</text></g>
<g id="n15-15"><ellipse class="L" cx="812" cy="790" rx="17.5" ry="21.5"/><text x="812" y="796">→</text></g>
<g id="n15-16"><ellipse class="L" cx="864" cy="790" rx="17.5" ry="21.5"/><text x="864" y="796">→</text></g>
<g id="n15-17"><ellipse class="L" cx="916" cy="790" rx="17.5" ry="21.5"/><text x="916" y="796">→</text></g>
<g id="n15-18"><ellipse class="L" cx="968" cy="790" rx="17.5" ry="21.5"/><text x="968" y="796">→</text></g>
<g id="n16-1"><ellipse class="L" cx="84" cy="842" rx="17.5" ry="21.5"/><text x="84" y="848">←</text></g>
<g id="n16-2"><ellipse class="L" cx="136" cy="842" rx="17.5" ry="21.5"/><text x="136" y="848">←</text></g>
<g id="n16-3"><ellipse class="L" cx="188" cy="842" rx="17.5" ry="21.5"/><text x="188" y="848">←</text></g>
<g id="n16-4"><ellipse class="L" cx="240" cy="842" rx="17.5" ry="21.5"/><text x="240" y="848">←</text></g>
<g id="n16-5"><ellipse class="Y" cx="292" cy="842" rx="17.5" ry="21.5"/><text x="292" y="848">←</text></g>
<g id="n16-6"><ellipse class="Y" cx="344" cy="842" rx="17.5" ry="21.5"/><text x="344" y="848">←</text></g>
<g id="n16-7"><ellipse class="Y" cx="396" cy="842" rx="17.5" ry="21.5"/><text x="396" y="848">←</text></g>
<g id="n16-8"><ellipse class="O" cx="448" cy="842" rx="17.5" ry="21.5"/><text class="w" x="448" y="848">←</text></g>
<g id="n16-9"><ellipse class="O" cx="500" cy="842" rx="17.5" ry="21.5"/><text class="w" x="500" y="848">←</text></g>
<g id="n16-10"><ellipse class="O" cx="552" cy="842" rx="17.5" ry="21.5"/><text class="w" x="552" y="848">←</text></g>
<g id="n16-11"><ellipse class="O" cx="604" cy="842" rx="17.5" ry="21.5"/><text class="w" x="604" y="848">←</text></g>
<g id="n16-12"><ellipse class="K" cx="656" cy="842" rx="17.5" ry="21.5"/><text class="w" x="656" y="848">←</text></g>
<g id="n16-13"><ellipse class="K" cx="708" cy="842" rx="17.5" ry="21.5"/><text class="w" x="708" y="848">←</text></g>
<g id="n16-14"><ellipse class="K" cx="760" cy="842" rx="17.5" ry="21.5"/><text class="w" x="760" y="848">←</text></g>
<g id="n16-15"><ellipse class="L" cx="812" cy="842" rx="17.5" ry="21.5"/><text x="812" y="848">←</text></g>
<g id="n16-16"><ellipse class="L" cx="864" cy="842" rx="17.5" ry="21.5"/><text x="864" y="848">←</text></g>
<g id="n16-17"><ellipse class="L" cx="916" cy="842" rx="17.5" ry="21.5"/><text x="916" y="848">←</text></g>
<g id="n16-18"><ellipse class="L" cx="968" cy="842" rx="17.5" ry="21.5"/><text x="968" y="848">←</text></g>
<g id="n17-1"><ellipse class="L" cx="84" cy="894" rx="17.5" ry="21.5"/><text x="84" y="900">→</text></g>
<g id="n17-2"><ellipse class="L" cx="136" cy="894" rx="17.5" ry="21.5"/><text x="136" y="900">→</text></g>
<g id="n17-3"><ellipse class="P" cx="188" cy="894" rx="17.5" ry="21.5"/><text class="w" x="188" y="900">→</text></g>
<g id="n17-4"><ellipse class="P" cx="240" cy="894" rx="17.5" ry="21.5"/><text class="w" x="240" y="900">→</text></g>
<g id="n17-5"><ellipse class="L" cx="292" cy="894" rx="17.5" ry="21.5"/><text x="292" y="900">→</text></g>
<g id="n17-6"><ellipse class="L" cx="344" cy="894" rx="17.5" ry="21.5"/><text x="344" y="900">→</text></g>
<g id="n17-7"><ellipse class="O" cx="396" cy="894" rx="17.5" ry="21.5"/><text class="w" x="396" y="900">→</text></g>
<g id="n17-8"><ellipse class="O" cx="448" cy="894" rx="17.5" ry="21.5"/><text class="w" x="448" y="900">→</text></g>
<g id="n17-9"><ellipse class="O" cx="500" cy="894" rx="17.5" ry="21.5"/><text class="w" x="500" y="900">→</text></g>
<g id="n17-10"><ellipse class="O" cx="552" cy="894" rx="17.5" ry="21.5"/><text class="w" x="552" y="900">→</text></g>
<g id="n17-11"><ellipse class="O" cx="604" cy="894" rx="17.5" ry="21.5"/><text class="w" x="604" y="900">→</text></g>
<g id="n17-12"><ellipse class="O" cx="656" cy="894" rx="17.5" ry="21.5"/><text class="w" x="656" y="900">→</text></g>
<g id="n17-13"><ellipse class="W" cx="708" cy="894" rx="17.5" ry="21.5"/><text x="708" y="900">→</text></g>
<g id="n17-14"><ellipse class="K" cx="760" cy="894" rx="17.5" ry="21.5"/><text class="w" x="760" y="900">→</text></g>
<g id="n17-15"><ellipse class="L" cx="812" cy="894" rx="17.5" ry="21.5"/><text x="812" y="900">→</text></g>
<g id="n17-16"><ellipse class="L" cx="864" cy="894" rx="17.5" ry="21.5"/><text x="864" y="900">→</text></g>
<g id="n17-17"><ellipse class="L" cx="916" cy="894" rx="17.5" ry="21.5"/><text x="916" y="900">→</text></g>
<g id="n17-18"><ellipse class="L" cx="968" cy="894" rx="17.5" ry="21.5"/><text x="968" y="900">→</text></g>
<g id="n18-1"><ellipse class="L" cx="84" cy="946" rx="17.5" ry="21.5"/><text x="84" y="952">←</text></g>
<g id="n18-2"><ellipse class="P" cx="136" cy="946" rx="17.5" ry="21.5"/><text class="w" x="136" y="952">←</text></g>
<g id="n18-3"><ellipse class="P" cx="188" cy="946" rx="17.5" ry="21.5"/><text class="w" x="188" y="952">←</text></g>
<g id="n18-4"><ellipse class="P" cx="240" cy="946" rx="17.5" ry="21.5"/><text class="w" x="240" y="952">←</text></g>
<g id="n18-5"><ellipse class="P" cx="292" cy="946" rx="17.5" ry="21.5"/><text class="w" x="292" y="952">←</text></g>
<g id="n18-6"><ellipse class="L" cx="344" cy="946" rx="17.5" ry="21.5"/><text x="344" y="952">←</text></g>
<g id="n18-7"><ellipse class="N" cx="396" cy="946" rx="17.5" ry="21.5"/><text class="w" x="396" y="952">←</text></g>
<g id="n18-8"><ellipse class="L" cx="448" cy="946" rx="17.5" ry="21.5"/><text x="448" y="952">←</text></g>
<g id="n18-9"><ellipse class="N" cx="500" cy="946" rx="17.5" ry="21.5"/><text class="w" x="500" y="952">←</text></g>
<g id="n18-10"><ellipse class="L" cx="552" cy="946" rx="17.5" ry="21.5"/><text x="552" y="952">←</text></g>
<g id="n18-11"><ellipse class="L" cx="604" cy="946" rx="17.5" ry="21.5"/><text x="604" y="952">←</text></g>
<g id="n18-12"><ellipse class="W" cx="656" cy="946" rx="17.5" ry="21.5"/><text x="656" y="952">←</text></g>
<g id="n18-13"><ellipse class="W" cx="708" cy="946" rx="17.5" ry="21.5"/><text x="708" y="952">←</text></g>
<g id="n18-14"><ellipse class="W" cx="760" cy="946" rx="17.5" ry="21.5"/><text x="760" y="952">←</text></g>
<g id="n18-15"><ellipse class="K" cx="812" cy="946" rx="17.5" ry="21.5"/><text class="w" x="812" y="952">←</text></g>
<g id="n18-16"><ellipse class="L" cx="864" cy="946" rx="17.5" ry="21.5"/><text x="864" y="952">←</text></g>
<g id="n18-17"><ellipse class="L" cx="916" cy="946" rx="17.5" ry="21.5"/><text x="916" y="952">←</text></g>
<g id="n18-18"><ellipse class="L" cx="968" cy="946" rx="17.5" ry="21.5"/><text x="968" y="952">←</text></g>
<g id="n19-1"><ellipse class="L" cx="84" cy="998" rx="17.5" ry="21.5"/><text x="84" y="1004">→</text></g>
<g id="n19-2"><ellipse class="L" cx="136" cy="998" rx="17.5" ry="21.5"/><text x="136" y="1004">→</text></g>
<g id="n19-3"><ellipse class="P" cx="188" cy="998" rx="17.5" ry="21.5"/><text class="w" x="188" y="1004">→</text></g>
<g id="n19-4"><ellipse class="P" cx="240" cy="998" rx="17.5" ry="21.5"/><text class="w" x="240" y="1004">→</text></g>
<g id="n19-5"><ellipse class="N" cx="292" cy="998" rx="17.5" ry="21.5"/><text class="w" x="292" y="1004">→</text></g>
<g id="n19-6"><ellipse class="N" cx="344" cy="998" rx="17.5" ry="21.5"/><text class="w" x="344" y="1004">→</text></g>
<g id="n19-7"><ellipse class="N" cx="396" cy="998" rx="17.5" ry="21.5"/><text class="w" x="396" y="1004">→</text></g>
<g id="n19-8"><ellipse class="L" cx="448" cy="998" rx="17.5" ry="21.5"/><text x="448" y="1004">→</text></g>
<g id="n19-9"><ellipse class="N" cx="500" cy="998" rx="17.5" ry="21.5"/><text class="w" x="500" y="1004">→</text></g>
<g id="n19-10"><ellipse class="L" cx="552" cy="998" rx="17.5" ry="21.5"/><text x="552" y="1004">→</text></g>
<g id="n19-11"><ellipse class="L" cx="604" cy="998" rx="17.5" ry="21.5"/><text x="604" y="1004">→</text></g>
<g id="n19-12"><ellipse class="L" cx="656" cy="998" rx="17.5" ry="21.5"/><text x="656" y="1004">→</text></g>
<g id="n19-13"><ellipse class="K" cx="708" cy="998" rx="17.5" ry="21.5"/><text class="w" x="708" y="1004">→</text></g>
<g id="n19-14"><ellipse class="K" cx="760" cy="998" rx="17.5" ry="21.5"/><text class="w" x="760" y="1004">→</text></g>
<g id="n19-15"><ellipse class="K" cx="812" cy="998" rx="17.5" ry="21.5"/><text class="w" x="812" y="1004">→</text></g>
<g id="n19-16"><ellipse class="K" cx="864" cy="998" rx="17.5" ry="21.5"/><text class="w" x="864" y="1004">→</text></g>
<g id="n19-17"><ellipse class="L" cx="916" cy="998" rx="17.5" ry="21.5"/><text x="916" y="1004">→</text></g>
<g id="n19-18"><ellipse class="L" cx="968" cy="998" rx="17.5" ry="21.5"/><text x="968" y="1004">→</text></g>
<g id="n20-1"><ellipse class="L" cx="84" cy="1050" rx="17.5" ry="21.5"/><text x="84" y="1056">←</text></g>
<g id="n20-2"><ellipse class="L" cx="136" cy="1050" rx="17.5" ry="21.5"/><text x="136" y="1056">←</text></g>
<g id="n20-3"><ellipse class="P" cx="188" cy="1050" rx="17.5" ry="21.5"/><text class="w" x="188" y="1056">←</text></g>
<g id="n20-4"><ellipse class="N" cx="240" cy="1050" rx="17.5" ry="21.5"/><text class="w" x="240" y="1056">←</text></g>
<g id="n20-5"><ellipse class="P" cx="292" cy="1050" rx="17.5" ry="21.5"/><text class="w" x="292" y="1056">←</text></g>
<g id="n20-6"><ellipse class="P" cx="344" cy="1050" rx="17.5" ry="21.5"/><text class="w" x="344" y="1056">←</text></g>
<g id="n20-7"><ellipse class="N" cx="396" cy="1050" rx="17.5" ry="21.5"/><text class="w" x="396" y="1056">←</text></g>
<g id="n20-8"><ellipse class="N" cx="448" cy="1050" rx="17.5" ry="21.5"/><text class="w" x="448" y="1056">←</text></g>
<g id="n20-9"><ellipse class="N" cx="500" cy="1050" rx="17.5" ry="21.5"/><text class="w" x="500" y="1056">←</text></g>
<g id="n20-10"><ellipse class="L" cx="552" cy="1050" rx="17.5" ry="21.5"/><text x="552" y="1056">←</text></g>
<g id="n20-11"><ellipse class="L" cx="604" cy="1050" rx="17.5" ry="21.5"/><text x="604" y="1056">←</text></g>
<g id="n20-12"><ellipse class="L" cx="656" cy="1050" rx="17.5" ry="21.5"/><text x="656" y="1056">←</text></g>
<g id="n20-13"><ellipse class="K" cx="708" cy="1050" rx="17.5" ry="21.5"/><text class="w" x="708" y="1056">←</text></g>
<g id="n20-14"><ellipse class="K" cx="760" cy="1050" rx="17.5" ry="21.5"/><text class="w" x="760" y="1056">←</text></g>
<g id="n20-15"><ellipse class="W" cx="812" cy="1050" rx="17.5" ry="21.5"/><text x="812" y="1056">←</text></g>
<g id="n20-16"><ellipse class="K" cx="864" cy="1050" rx="17.5" ry="21.5"/><text class="w" x="864" y="1056">←</text></g>
<g id="n20-17"><ellipse class="K" cx="916" cy="1050" rx="17.5" ry="21.5"/><text class="w" x="916" y="1056">←</text></g>
<g id="n20-18"><ellipse class="L" cx="968" cy="1050" rx="17.5" ry="21.5"/><text x="968" y="1056">←</text></g>
<g id="n21-1"><ellipse class="L" cx="84" cy="1102" rx="17.5" ry="21.5"/><text x="84" y="1108">→</text></g>
<g id="n21-2"><ellipse class="L" cx="136" cy="1102" rx="17.5" ry="21.5"/><text x="136" y="1108">→</text></g>
<g id="n21-3"><ellipse class="L" cx="188" cy="1102" rx="17.5" ry="21.5"/><text x="188" y="1108">→</text></g>
<g id="n21-4"><ellipse class="P" cx="240" cy="1102" rx="17.5" ry="21.5"/><text class="w" x="240" y="1108">→</text></g>
<g id="n21-5"><ellipse class="P" cx="292" cy="1102" rx="17.5" ry="21.5"/><text class="w" x="292" y="1108">→</text></g>
<g id="n21-6"><ellipse class="N" cx="344" cy="1102" rx="17.5" ry="21.5"/><text class="w" x="344" y="1108">→</text></g>
<g id="n21-7"><ellipse class="P" cx="396" cy="1102" rx="17.5" ry="21.5"/><text class="w" x="396" y="1108">→</text></g>
<g id="n21-8"><ellipse class="P" cx="448" cy="1102" rx="17.5" ry="21.5"/><text class="w" x="448" y="1108">→</text></g>
<g id="n21-9"><ellipse class="P" cx="500" cy="1102" rx="17.5" ry="21.5"/><text class="w" x="500" y="1108">→</text></g>
<g id="n21-10"><ellipse class="N" cx="552" cy="1102" rx="17.5" ry="21.5"/><text class="w" x="552" y="1108">→</text></g>
<g id="n21-11"><ellipse class="L" cx="604" cy="1102" rx="17.5" ry="21.5"/><text x="604" y="1108">→</text></g>
<g id="n21-12"><ellipse class="L" cx="656" cy="1102" rx="17.5" ry="21.5"/><text x="656" y="1108">→</text></g>
<g id="n21-13"><ellipse class="L" cx="708" cy="1102" rx="17.5" ry="21.5"/><text x="708" y="1108">→</text></g>
<g id="n21-14"><ellipse class="K" cx="760" cy="1102" rx="17.5" ry="21.5"/><text class="w" x="760" y="1108">→</text></g>
<g id="n21-15"><ellipse class="W" cx="812" cy="1102" rx="17.5" ry="21.5"/><text x="812" y="1108">→</text></g>
<g id="n21-16"><ellipse class="W" cx="864" cy="1102" rx="17.5" ry="21.5"/><text x="864" y="1108">→</text></g>
<g id="n21-17"><ellipse class="K" cx="916" cy="1102" rx="17.5" ry="21.5"/><text class="w" x="916" y="1108">→</text></g>
<g id="n21-18"><ellipse class="L" cx="968" cy="1102" rx="17.5" ry="21.5"/><text x="968" y="1108">→</text></g>
<g id="n22-1"><ellipse class="L" cx="84" cy="1154" rx="17.5" ry="21.5"/><text x="84" y="1160">←</text></g>
<g id="n22-2"><ellipse class="L" cx="136" cy="1154" rx="17.5" ry="21.5"/><text x="136" y="1160">←</text></g>
<g id="n22-3"><ellipse class="L" cx="188" cy="1154" rx="17.5" ry="21.5"/><text x="188" y="1160">←</text></g>
<g id="n22-4"><ellipse class="L" cx="240" cy="1154" rx="17.5" ry="21.5"/><text x="240" y="1160">←</text></g>
<g id="n22-5"><ellipse class="P" cx="292" cy="1154" rx="17.5" ry="21.5"/><text class="w" x="292" y="1160">←</text></g>
<g id="n22-6"><ellipse class="P" cx="344" cy="1154" rx="17.5" ry="21.5"/><text class="w" x="344" y="1160">←</text></g>
<g id="n22-7"><ellipse class="P" cx="396" cy="1154" rx="17.5" ry="21.5"/><text class="w" x="396" y="1160">←</text></g>
<g id="n22-8"><ellipse class="P" cx="448" cy="1154" rx="17.5" ry="21.5"/><text class="w" x="448" y="1160">←</text></g>
<g id="n22-9"><ellipse class="P" cx="500" cy="1154" rx="17.5" ry="21.5"/><text class="w" x="500" y="1160">←</text></g>
<g id="n22-10"><ellipse class="P" cx="552" cy="1154" rx="17.5" ry="21.5"/><text class="w" x="552" y="1160">←</text></g>
<g id="n22-11"><ellipse class="L" cx="604" cy="1154" rx="17.5" ry="21.5"/><text x="604" y="1160">←</text></g>
<g id="n22-12"><ellipse class="L" cx="656" cy="1154" rx="17.5" ry="21.5"/><text x="656" y="1160">←</text></g>
<g id="n22-13"><ellipse class="L" cx="708" cy="1154" rx="17.5" ry="21.5"/><text x="708" y="1160">←</text></g>
<g id="n22-14"><ellipse class="K" cx="760" cy="1154" rx="17.5" ry="21.5"/><text class="w" x="760" y="1160">←</text></g>
<g id="n22-15"><ellipse class="K" cx="812" cy="1154" rx="17.5" ry="21.5"/><text class="w" x="812" y="1160">←</text></g>
<g id="n22-16"><ellipse class="W" cx="864" cy="1154" rx="17.5" ry="21.5"/><text x="864" y="1160">←</text></g>
<g id="n22-17"><ellipse class="L" cx="916" cy="1154" rx="17.5" ry="21.5"/><text x="916" y="1160">←</text></g>
<g id="n22-18"><ellipse class="L" cx="968" cy="1154" rx="17.5" ry="21.5"/><text x="968" y="1160">←</text></g>
<g id="n23-1"><ellipse class="L" cx="84" cy="1206" rx="17.5" ry="21.5"/><text x="84" y="1212">→</text></g>
<g id="n23-2"><ellipse class="L" cx="136" cy="1206" rx="17.5" ry="21.5"/><text x="136" y="1212">→</text></g>
<g id="n23-3"><ellipse class="L" cx="188" cy="1206" rx="17.5" ry="21.5"/><text x="188" y="1212">→</text></g>
<g id="n23-4"><ellipse class="L" cx="240" cy="1206" rx="17.5" ry="21.5"/><text x="240" y="1212">→</text></g>
<g id="n23-5"><ellipse class="L" cx="292" cy="1206" rx="17.5" ry="21.5"/><text x="292" y="1212">→</text></g>
<g id="n23-6"><ellipse class="P" cx="344" cy="1206" rx="17.5" ry="21.5"/><text class="w" x="344" y="1212">→</text></g>
<g id="n23-7"><ellipse class="P" cx="396" cy="1206" rx="17.5" ry="21.5"/><text class="w" x="396" y="1212">→</text></g>
<g id="n23-8"><ellipse class="P" cx="448" cy="1206" rx="17.5" ry="21.5"/><text class="w" x="448" y="1212">→</text></g>
<g id="n23-9"><ellipse class="P" cx="500" cy="1206" rx="17.5" ry="21.5"/><text class="w" x="500" y="1212">→</text></g>
<g id="n23-10"><ellipse class="P" cx="552" cy="1206" rx="17.5" ry="21.5"/><text class="w" x="552" y="1212">→</text></g>
<g id="n23-11"><ellipse class="L" cx="604" cy="1206" rx="17.5" ry="21.5"/><text x="604" y="1212">→</text></g>
<g id="n23-12"><ellipse class="L" cx="656" cy="1206" rx="17.5" ry="21.5"/><text x="656" y="1212">→</text></g>
<g id="n23-13"><ellipse class="L" cx="708" cy="1206" rx="17.5" ry="21.5"/><text x="708" y="1212">→</text></g>
<g id="n23-14"><ellipse class="L" cx="760" cy="1206" rx="17.5" ry="21.5"/><text x="760" y="1212">→</text></g>
<g id="n23-15"><ellipse class="K" cx="812" cy="1206" rx="17.5" ry="21.5"/><text class="w" x="812" y="1212">→</text></g>
<g id="n23-16"><ellipse class="L" cx="864" cy="1206" rx="17.5" ry="21.5"/><text x="864" y="1212">→</text></g>
<g id="n23-17"><ellipse class="L" cx="916" cy="1206" rx="17.5" ry="21.5"/><text x="916" y="1212">→</text></g>
<g id="n23-18"><ellipse class="L" cx="968" cy="1206" rx="17.5" ry="21.5"/><text x="968" y="1212">→</text></g>
<g id="n24-1"><ellipse class="L" cx="84" cy="1258" rx="17.5" ry="21.5"/><text x="84" y="1264">←</text></g>
<g id="n24-2"><ellipse class="L" cx="136" cy="1258" rx="17.5" ry="21.5"/><text x="136" y="1264">←</text></g>
<g id="n24-3"><ellipse class="L" cx="188" cy="1258" rx="17.5" ry="21.5"/><text x="188" y="1264">←</text></g>
<g id="n24-4"><ellipse class="L" cx="240" cy="1258" rx="17.5" ry="21.5"/><text x="240" y="1264">←</text></g>
<g id="n24-5"><ellipse class="L" cx="292" cy="1258" rx="17.5" ry="21.5"/><text x="292" y="1264">←</text></g>
<g id="n24-6"><ellipse class="L" cx="344" cy="1258" rx="17.5" ry="21.5"/><text x="344" y="1264">←</text></g>
<g id="n24-7"><ellipse class="P" cx="396" cy="1258" rx="17.5" ry="21.5"/><text class="w" x="396" y="1264">←</text></g>
<g id="n24-8"><ellipse class="P" cx="448" cy="1258" rx="17.5" ry="21.5"/><text class="w" x="448" y="1264">←</text></g>
<g id="n24-9"><ellipse class="P" cx="500" cy="1258" rx="17.5" ry="21.5"/><text class="w" x="500" y="1264">←</text></g>
<g id="n24-10"><ellipse class="P" cx="552" cy="1258" rx="17.5" ry="21.5"/><text class="w" x="552" y="1264">←</text></g>
<g id="n24-11"><ellipse class="P" cx="604" cy="1258" rx="17.5" ry="21.5"/><text class="w" x="604" y="1264">←</text></g>
<g id="n24-12"><ellipse class="L" cx="656" cy="1258" rx="17.5" ry="21.5"/><text x="656" y="1264">←</text></g>
<g id="n24-13"><ellipse class="L" cx="708" cy="1258" rx="17.5" ry="21.5"/><text x="708" y="1264">←</text></g>
<g id="n24-14"><ellipse class="L" cx="760" cy="1258" rx="17.5" ry="21.5"/><text x="760" y="1264">←</text></g>
<g id="n24-15"><ellipse class="L" cx="812" cy="1258" rx="17.5" ry="21.5"/><text x="812" y="1264">←</text></g>
<g id="n24-16"><ellipse class="L" cx="864" cy="1258" rx="17.5" ry="21.5"/><text x="864" y="1264">←</text></g>
<g id="n24-17"><ellipse class="L" cx="916" cy="1258" rx="17.5" ry="21.5"/><text x="916" y="1264">←</text></g>
<g id="n24-18"><ellipse class="L" cx="968" cy="1258" rx="17.5" ry="21.5"/><text x="968" y="1264">←</text></g>
</g>
<text id="watermark" x="527" y="665.5" text-anchor="middle" textLength="153" lengthAdjust="spacingAndGlyphs" font-family="'Liberation Sans',Arial,sans-serif" font-weight="bold" font-size="16.5" fill="#3a3a3a" stroke="#e0e0e0" stroke-width="2.5" paint-order="stroke">BRACELETBOOK.COM</text>
</svg>
